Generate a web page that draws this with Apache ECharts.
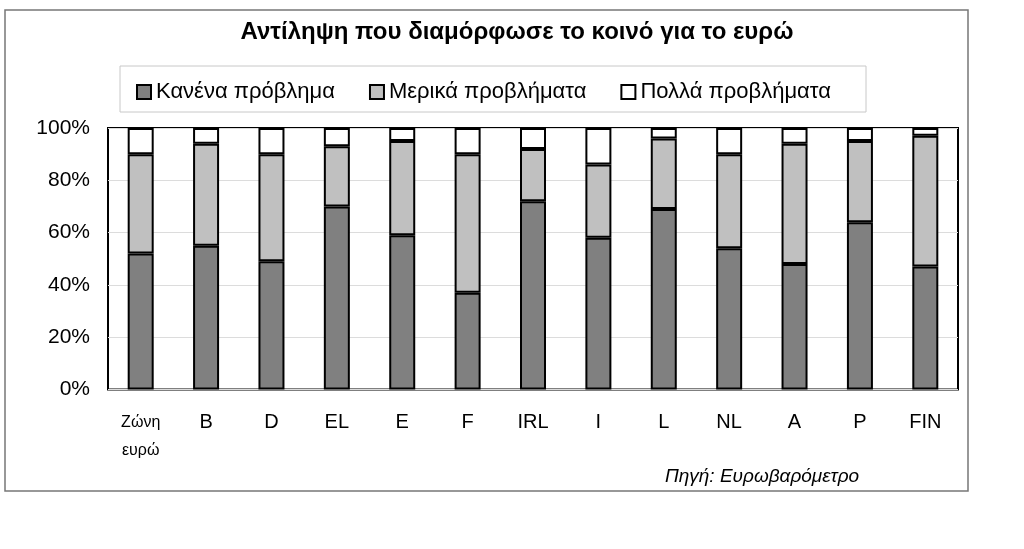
<!DOCTYPE html>
<html>
<head>
<meta charset="utf-8">
<script src="https://cdn.jsdelivr.net/npm/echarts@6/dist/echarts.min.js"></script>
<style>
  html, body { margin: 0; padding: 0; background: #fff; }
  #chart { width: 1024px; height: 549px; }
</style>
</head>
<body>
<div id="chart"></div>
<script>
const categories = ["Ζώνη\nευρώ", "B", "D", "EL", "E", "F", "IRL", "I", "L", "NL", "A", "P", "FIN"];
const noProblem = [52, 55, 49, 70, 59, 37, 72, 58, 69, 54, 48, 64, 47];
const someProblems = [38, 39, 41, 23, 36, 53, 20, 28, 27, 36, 46, 31, 50];
const manyProblems = [10, 6, 10, 7, 5, 10, 8, 14, 4, 10, 6, 5, 3];
const yTicks = [0, 20, 40, 60, 80, 100];

const font = "Liberation Sans, Arial, sans-serif";

function barSerie(name, data, color) {
  return {
    name: name,
    type: "bar",
    stack: "total",
    data: data,
    barWidth: 26,
    itemStyle: { color: color, borderColor: "#000", borderWidth: 2 },
    emphasis: { disabled: true }
  };
}

const myChart = echarts.init(document.getElementById("chart"));
const option = {
  animation: false,
  textStyle: { fontFamily: font, color: "#000" },
  title: {
    text: "Αντίληψη που διαμόρφωσε το κοινό για το ευρώ",
    left: 512,
    textAlign: "center",
    top: 15,
    textStyle: { fontSize: 24, fontWeight: "bold", fontFamily: font, color: "#000" }
  },
  legend: {
    left: 131,
    top: 76,
    itemWidth: 14,
    itemHeight: 14,
    itemGap: 34,
    icon: "rect",
    textStyle: { fontSize: 22, fontFamily: font, color: "#000" },
    data: ["Κανένα πρόβλημα", "Μερικά προβλήματα", "Πολλά προβλήματα"]
  },
  grid: {
    left: 108,
    right: 66,
    top: 128,
    bottom: 159.5,
    show: true,
    borderColor: "#000",
    borderWidth: 2,
    containLabel: false
  },
  xAxis: {
    type: "category",
    data: categories,
    axisLine: { show: false },
    axisTick: { show: false },
    axisLabel: {
      fontSize: 20,
      lineHeight: 28,
      margin: 19,
      color: "#000",
      interval: 0,
      formatter: v => v.indexOf("\n") >= 0 ? v.split("\n").map(s => "{s|" + s + "}").join("\n") : v,
      rich: { s: { fontSize: 16, lineHeight: 28, fontFamily: font, color: "#000" } }
    }
  },
  yAxis: {
    type: "value",
    min: yTicks[0],
    max: yTicks[yTicks.length - 1],
    interval: 20,
    axisLine: { show: false },
    axisTick: { show: false },
    splitLine: { lineStyle: { color: "#dcdcdc", width: 1 } },
    axisLabel: { fontSize: 21, margin: 18, color: "#000", formatter: "{value}%" }
  },
  series: [
    barSerie("Κανένα πρόβλημα", noProblem, "#808080"),
    barSerie("Μερικά προβλήματα", someProblems, "#c0c0c0"),
    barSerie("Πολλά προβλήματα", manyProblems, "#ffffff")
  ],
  graphic: [
    {
      type: "rect",
      shape: { x: 5, y: 10, width: 963, height: 481 },
      style: { fill: "none", stroke: "#777", lineWidth: 1.5 },
      z: -1
    },
    {
      type: "rect",
      shape: { x: 120, y: 66, width: 746, height: 46 },
      style: { fill: "none", stroke: "#c8c8c8", lineWidth: 1 },
      z: -1
    },
    {
      type: "text",
      left: 665,
      top: 467,
      style: {
        text: "Πηγή: Ευρωβαρόμετρο",
        font: "italic 19px " + font,
        fill: "#000"
      }
    }
  ]
};
myChart.setOption(option);
</script>
</body>
</html>
